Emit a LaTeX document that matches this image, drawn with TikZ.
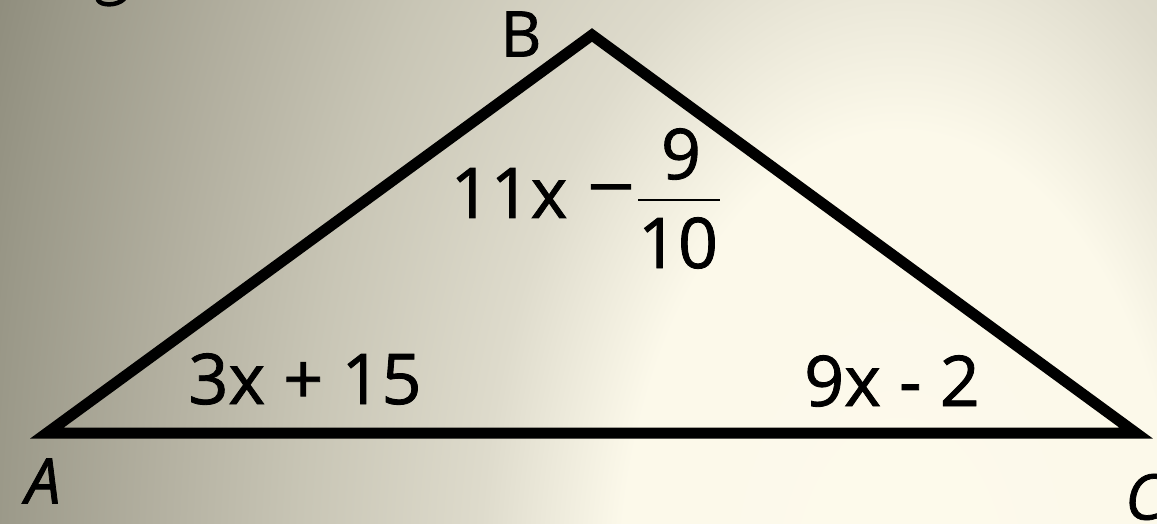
\documentclass[tikz,border=0pt]{standalone}
\usepackage{fontspec}
\setmainfont{Open Sans}[FakeBold=1.2]
\pgfdeclareradialshading{bgshade}{\pgfpoint{0bp}{0bp}}{%
  rgb(0bp)=(0.992,0.980,0.922);
  rgb(280bp)=(0.988,0.976,0.918);
  rgb(420bp)=(0.871,0.859,0.800);
  rgb(600bp)=(0.784,0.773,0.710);
  rgb(750bp)=(0.698,0.686,0.624);
  rgb(900bp)=(0.608,0.600,0.537);
  rgb(1000bp)=(0.541,0.533,0.471);
  rgb(1100bp)=(0.510,0.500,0.440)}
\tikzset{
  side/.style={line width=11pt, line join=miter, black},
  vlabel/.style={inner sep=0pt, font=\fontsize{63}{70}\selectfont},
  alabel/.style={inner sep=0pt, font=\fontsize{70}{78}\selectfont},
}
\begin{document}
\begin{tikzpicture}[x=1pt,y=-1pt]
\useasboundingbox (0,0) rectangle (1157,524);
% background
\begin{scope}
  \clip (0,0) rectangle (1157,524);
  \begin{scope}[shift={(900,600)}, yscale=1.667]
    \node[inner sep=0pt, transform shape] (bg) at (0,0) {\pgfuseshading{bgshade}};
  \end{scope}
  % fragment of a letter cut off at the top edge
  \draw[line width=4.5pt, line cap=round] (98,0) .. controls (101,6) and (117,6) .. (124,-1);
\end{scope}
% triangle
\coordinate (A) at (47,433);
\coordinate (B) at (592,35);
\coordinate (C) at (1136,433);
\draw[side] (A) -- (B) -- (C) -- cycle;
% vertex labels
\node[vlabel] (lB) at (521,34) {B};
\node[vlabel] (lA) at (43,481) {\itshape A};
\node[vlabel, anchor=west] (lC) at (1125,497) {\itshape C};
% angle labels
\node[alabel] (aA) at (305,379) {3x + 15};
\node[alabel] (aC) at (892,381) {9x - 2};
\node[alabel] (aB1) at (509,193) {11x};
\node[alabel, xscale=1.2, transform shape] (aBm) at (611,198) {−};
\node[alabel] (aBn) at (681,154) {9};
\node[alabel] (aBd) at (678,243) {10};
\coordinate (barL) at (638,200);
\coordinate (barR) at (720,200);
\draw[line width=2.5pt] (barL) -- (barR);
\end{tikzpicture}
\end{document}
